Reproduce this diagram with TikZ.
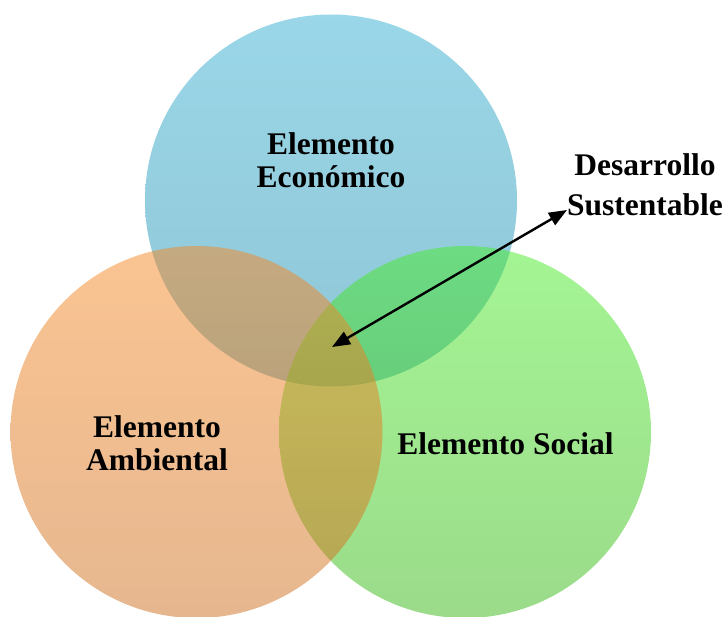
\documentclass[tikz,border=0pt]{standalone}
\usepackage{fontspec}
\setmainfont{Liberation Serif}
\usetikzlibrary{arrows.meta}
\definecolor{blueT}{RGB}{53,175,209}
\definecolor{blueB}{RGB}{31,141,173}
\definecolor{greenT}{RGB}{73,235,41}
\definecolor{greenB}{RGB}{55,183,21}
\definecolor{orangeT}{RGB}{247,137,37}
\definecolor{orangeB}{RGB}{205,111,31}
\tikzset{
  venn/.style={circle, minimum size=372pt, inner sep=0pt, draw=none, fill opacity=0.5},
  lbl/.style={font=\fontsize{31.5}{33}\selectfont\bfseries, align=center, inner sep=0pt, text=black},
  tip/.style={Triangle[length=18pt,width=14pt]},
}
\begin{document}
\begin{tikzpicture}[x=1pt,y=1pt]
\useasboundingbox (0,0) rectangle (726,-617);
\node[venn, top color=blueT, bottom color=blueB] (eco) at (331,-200.5) {};
\node[venn, top color=greenT, bottom color=greenB] (soc) at (465,-432) {};
\node[venn, top color=orangeT, bottom color=orangeB] (amb) at (196.5,-432) {};
\node[lbl, anchor=base] (teco) at (331,-188) {Elemento\\Económico};
\node[lbl, anchor=base] (tamb) at (157,-471) {Elemento\\Ambiental};
\node[lbl, anchor=base] (tsoc) at (505.5,-455) {Elemento Social};
\node[lbl, anchor=base, font=\fontsize{31.5}{40}\selectfont\bfseries] (tdes) at (645,-216) {Desarrollo\\Sustentable};
\coordinate (center) at (332,-347);
\coordinate (dtip) at (567,-210);
\draw[line width=2.4pt, {Triangle[length=18pt,width=14pt]}-{Triangle[length=18pt,width=14pt]}] (center) -- (dtip);
\end{tikzpicture}
\end{document}
